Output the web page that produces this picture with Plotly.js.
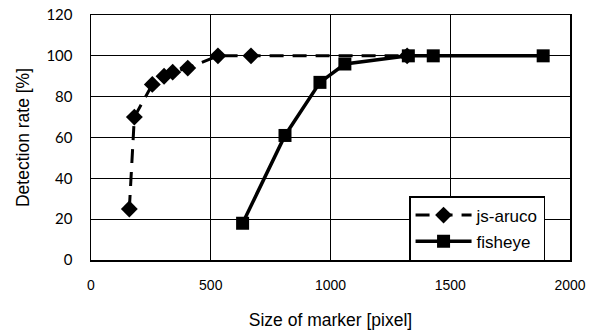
<!DOCTYPE html>
<html>
<head>
<meta charset="utf-8">
<script src="https://cdn.plot.ly/plotly-3.0.1.min.js"></script>
<style>html,body{margin:0;padding:0;background:#fff;}#chart{width:600px;height:331px;}</style>
</head>
<body>
<div id="chart"></div>
<script>
var arucoX = [160, 181, 256, 305, 341, 404, 530, 668, 1320];
var arucoY = [25, 70, 86, 90, 92, 94, 100, 100, 100];
var fisheyeX = [633, 810, 956, 1060, 1325, 1429, 1888];
var fisheyeY = [18, 61, 87, 96, 100, 100, 100];
var xTicks = [0, 500, 1000, 1500, 2000];
var yTicks = [0, 20, 40, 60, 80, 100, 120];

var traces = [
  {
    x: arucoX, y: arucoY, name: 'js-aruco', type: 'scatter', mode: 'lines+markers',
    legendgroup: 'a',
    line: {color: '#000', width: 3, dash: '14px,9px'},
    marker: {symbol: 'diamond', size: 13, color: '#000'}
  },
  {
    x: fisheyeX, y: fisheyeY, name: 'fisheye', type: 'scatter', mode: 'lines+markers',
    legendgroup: 'b',
    line: {color: '#000', width: 3.5},
    marker: {symbol: 'square', size: 13, color: '#000'}
  }
];

var layout = {
  width: 600, height: 331,
  margin: {l: 91, r: 30, t: 15, b: 71},
  paper_bgcolor: '#fff', plot_bgcolor: '#fff',
  showlegend: true,
  legend: {
    x: 0.664, y: 0.261, xanchor: 'left', yanchor: 'top',
    bgcolor: '#fff', bordercolor: '#000', borderwidth: 1.5,
    font: {family: 'Liberation Sans, Arial, sans-serif', size: 17, color: '#000'},
    itemwidth: 56, tracegroupgap: 1
  },
  xaxis: {
    range: [0, 2000], tickvals: xTicks, ticktext: xTicks.map(String),
    showgrid: true, gridcolor: '#000', gridwidth: 1,
    zeroline: false, showline: true, linecolor: '#000', linewidth: 1.5, mirror: true,
    ticks: '', ticklabelstandoff: 12,
    tickfont: {family: 'Liberation Sans, Arial, sans-serif', size: 14, color: '#000'},
    title: {text: 'Size of marker [pixel]', standoff: 21,
      font: {family: 'Liberation Sans, Arial, sans-serif', size: 17.5, color: '#000'}}
  },
  yaxis: {
    range: [0, 120], tickvals: yTicks, ticktext: yTicks.map(String),
    showgrid: true, gridcolor: '#000', gridwidth: 1,
    zeroline: false, showline: true, linecolor: '#000', linewidth: 1.5, mirror: true,
    ticks: '', ticklabelstandoff: 14,
    tickfont: {family: 'Lato, Carlito, sans-serif', size: 15, color: '#000'},
    title: {text: 'Detection rate [%]', standoff: 12,
      font: {family: 'Liberation Sans, Arial, sans-serif', size: 17.5, color: '#000'}}
  }
};

Plotly.newPlot('chart', traces, layout, {displayModeBar: false, staticPlot: true});
</script>
</body>
</html>
